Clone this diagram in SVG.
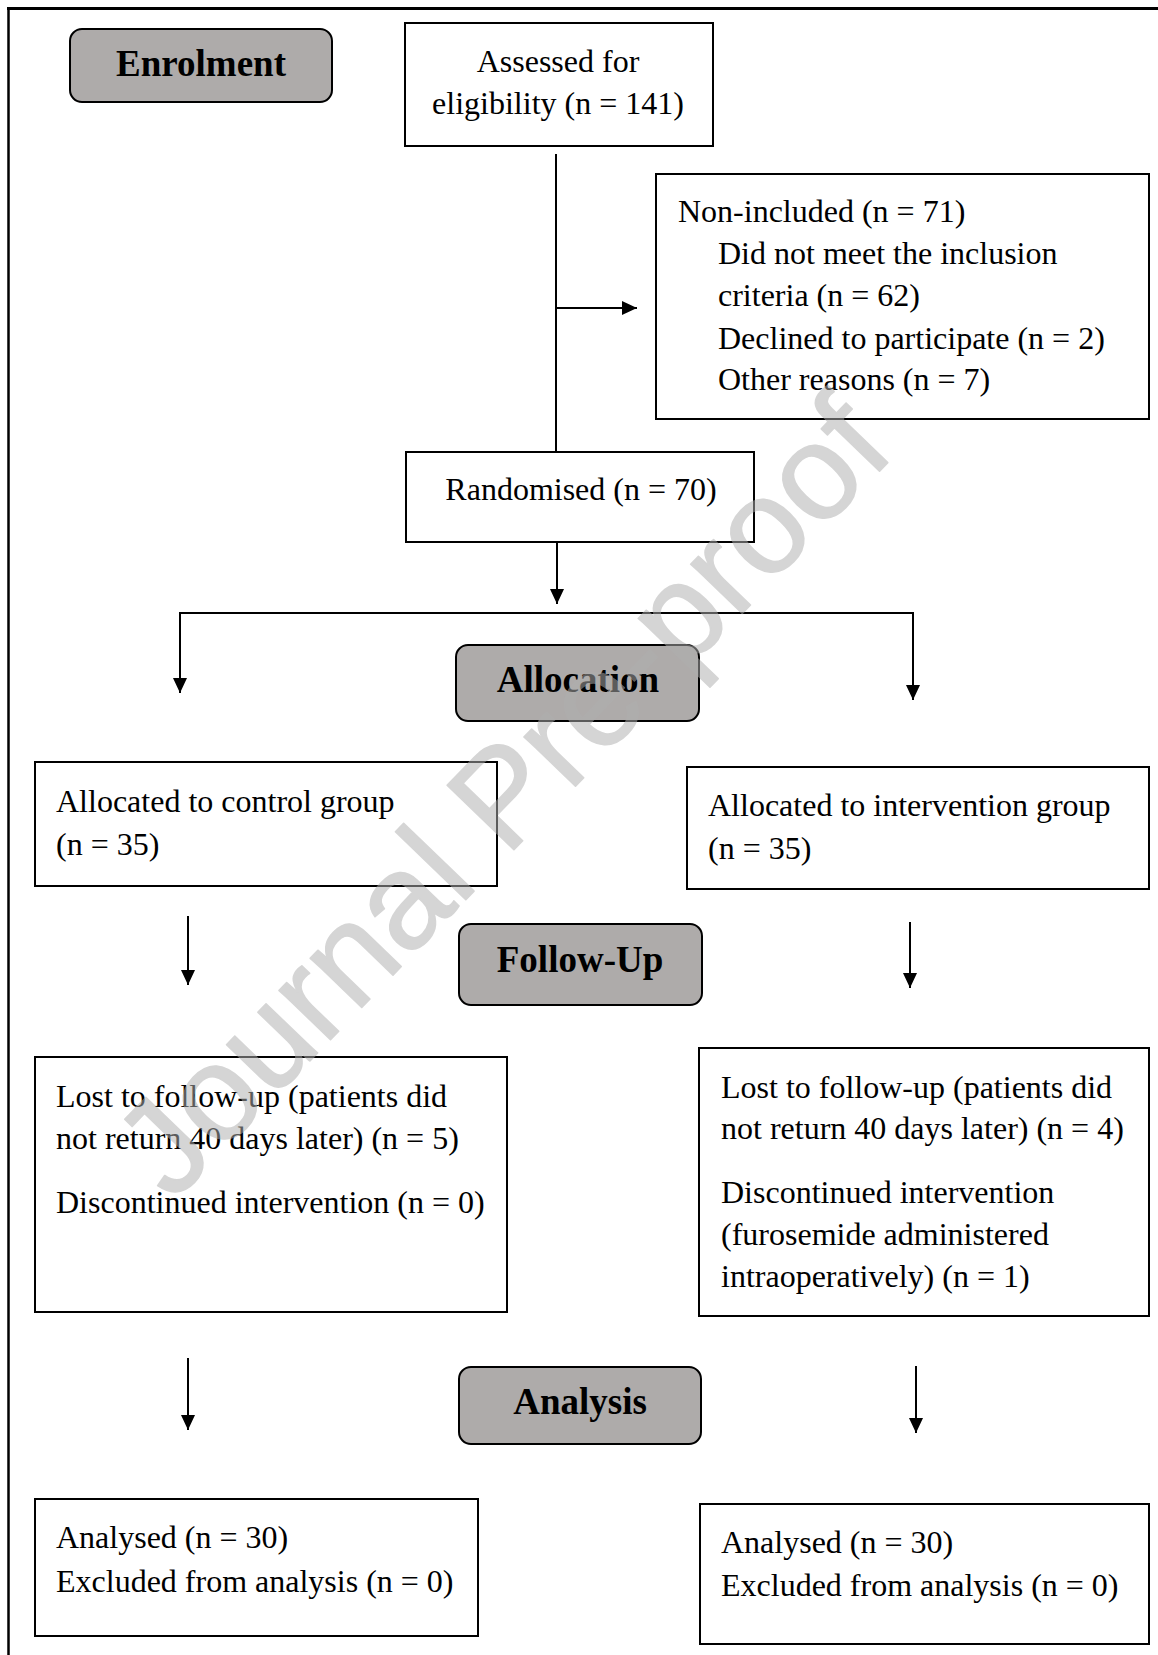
<svg xmlns="http://www.w3.org/2000/svg" width="1158" height="1655" viewBox="0 0 1158 1655">
<style>
.box{fill:#fff;stroke:#000;stroke-width:2}
.phase{fill:#aeabaa;stroke:#000;stroke-width:2}
.t{font-family:"Liberation Serif","Times New Roman",serif;font-size:32px;fill:#000}
.m{text-anchor:middle}
.b{font-family:"Liberation Serif","Times New Roman",serif;font-size:37px;font-weight:bold;text-anchor:middle;fill:#000}
.conn line,.conn path{stroke:#000;stroke-width:2;fill:none}
.wm{font-family:"Liberation Sans",Arial,sans-serif;font-size:135px;fill:#afafaf;stroke:#afafaf;stroke-width:1.5;stroke-linejoin:round;text-anchor:middle}
</style>
<defs>
<marker id="ah" markerUnits="userSpaceOnUse" viewBox="0 0 15 14" refX="15" refY="7" markerWidth="15" markerHeight="14" orient="auto">
<path d="M0,0 L15,7 L0,14 z" fill="#000"/>
</marker>
</defs>
<rect width="1158" height="1655" fill="#fff"/>
<g id="frame">
<line x1="7" y1="8.5" x2="1158" y2="8.5" stroke="#000" stroke-width="3"/>
<line x1="8.5" y1="7" x2="8.5" y2="1655" stroke="#000" stroke-width="2.5"/>
</g>
<g class="conn" id="connectors">
<line x1="556" y1="154" x2="556" y2="452"/>
<line x1="556" y1="308" x2="637" y2="308" marker-end="url(#ah)"/>
<line x1="557" y1="542" x2="557" y2="604" marker-end="url(#ah)"/>
<path d="M557,613 H180 V693" marker-end="url(#ah)"/>
<path d="M557,613 H913 V700" marker-end="url(#ah)"/>
<line x1="188" y1="916" x2="188" y2="985" marker-end="url(#ah)"/>
<line x1="910" y1="922" x2="910" y2="988" marker-end="url(#ah)"/>
<line x1="188" y1="1358" x2="188" y2="1430" marker-end="url(#ah)"/>
<line x1="916" y1="1366" x2="916" y2="1433" marker-end="url(#ah)"/>
</g>
<g id="enrolment">
<rect class="phase" x="70" y="29" width="262" height="73" rx="12"/>
<text class="b" x="201" y="76">Enrolment</text>
</g>
<g id="assessed">
<rect class="box" x="405" y="23" width="308" height="123"/>
<text class="t m" x="558" y="72">Assessed for</text>
<text class="t m" x="558" y="114">eligibility (n = 141)</text>
</g>
<g id="nonincluded">
<rect class="box" x="656" y="174" width="493" height="245"/>
<text class="t" x="678" y="222">Non-included (n = 71)</text>
<text class="t" x="718" y="264">Did not meet the inclusion</text>
<text class="t" x="718" y="306">criteria (n = 62)</text>
<text class="t" x="718" y="349">Declined to participate (n = 2)</text>
<text class="t" x="718" y="390">Other reasons (n = 7)</text>
</g>
<g id="randomised">
<rect class="box" x="406" y="452" width="348" height="90"/>
<text class="t m" x="581" y="500">Randomised (n = 70)</text>
</g>
<g id="allocation">
<rect class="phase" x="456" y="645" width="243" height="76" rx="12"/>
<text class="b" x="578" y="692">Allocation</text>
</g>
<g id="control">
<rect class="box" x="35" y="762" width="462" height="124"/>
<text class="t" x="56" y="812">Allocated to control group</text>
<text class="t" x="56" y="855">(n = 35)</text>
</g>
<g id="intervention">
<rect class="box" x="687" y="767" width="462" height="122"/>
<text class="t" x="708" y="816">Allocated to intervention group</text>
<text class="t" x="708" y="859">(n = 35)</text>
</g>
<g id="followup">
<rect class="phase" x="459" y="924" width="243" height="81" rx="12"/>
<text class="b" x="580" y="972">Follow-Up</text>
</g>
<g id="lost-control">
<rect class="box" x="35" y="1057" width="472" height="255"/>
<text class="t" x="56" y="1107">Lost to follow-up (patients did</text>
<text class="t" x="56" y="1149">not return 40 days later) (n = 5)</text>
<text class="t" x="56" y="1213">Discontinued intervention (n = 0)</text>
</g>
<g id="lost-intervention">
<rect class="box" x="699" y="1048" width="450" height="268"/>
<text class="t" x="721" y="1098">Lost to follow-up (patients did</text>
<text class="t" x="721" y="1139">not return 40 days later) (n = 4)</text>
<text class="t" x="721" y="1203">Discontinued intervention</text>
<text class="t" x="721" y="1245">(furosemide administered</text>
<text class="t" x="721" y="1287">intraoperatively) (n = 1)</text>
</g>
<g id="analysis">
<rect class="phase" x="459" y="1367" width="242" height="77" rx="12"/>
<text class="b" x="580" y="1414">Analysis</text>
</g>
<g id="analysed-control">
<rect class="box" x="35" y="1499" width="443" height="137"/>
<text class="t" x="56" y="1548">Analysed (n = 30)</text>
<text class="t" x="56" y="1592">Excluded from analysis (n = 0)</text>
</g>
<g id="analysed-intervention">
<rect class="box" x="700" y="1504" width="449" height="140"/>
<text class="t" x="721" y="1553">Analysed (n = 30)</text>
<text class="t" x="721" y="1596">Excluded from analysis (n = 0)</text>
</g>
<g id="watermark" opacity="0.52">
<text class="wm" transform="translate(535,828) rotate(-46)">Journal Pre-proof</text>
</g>
</svg>
